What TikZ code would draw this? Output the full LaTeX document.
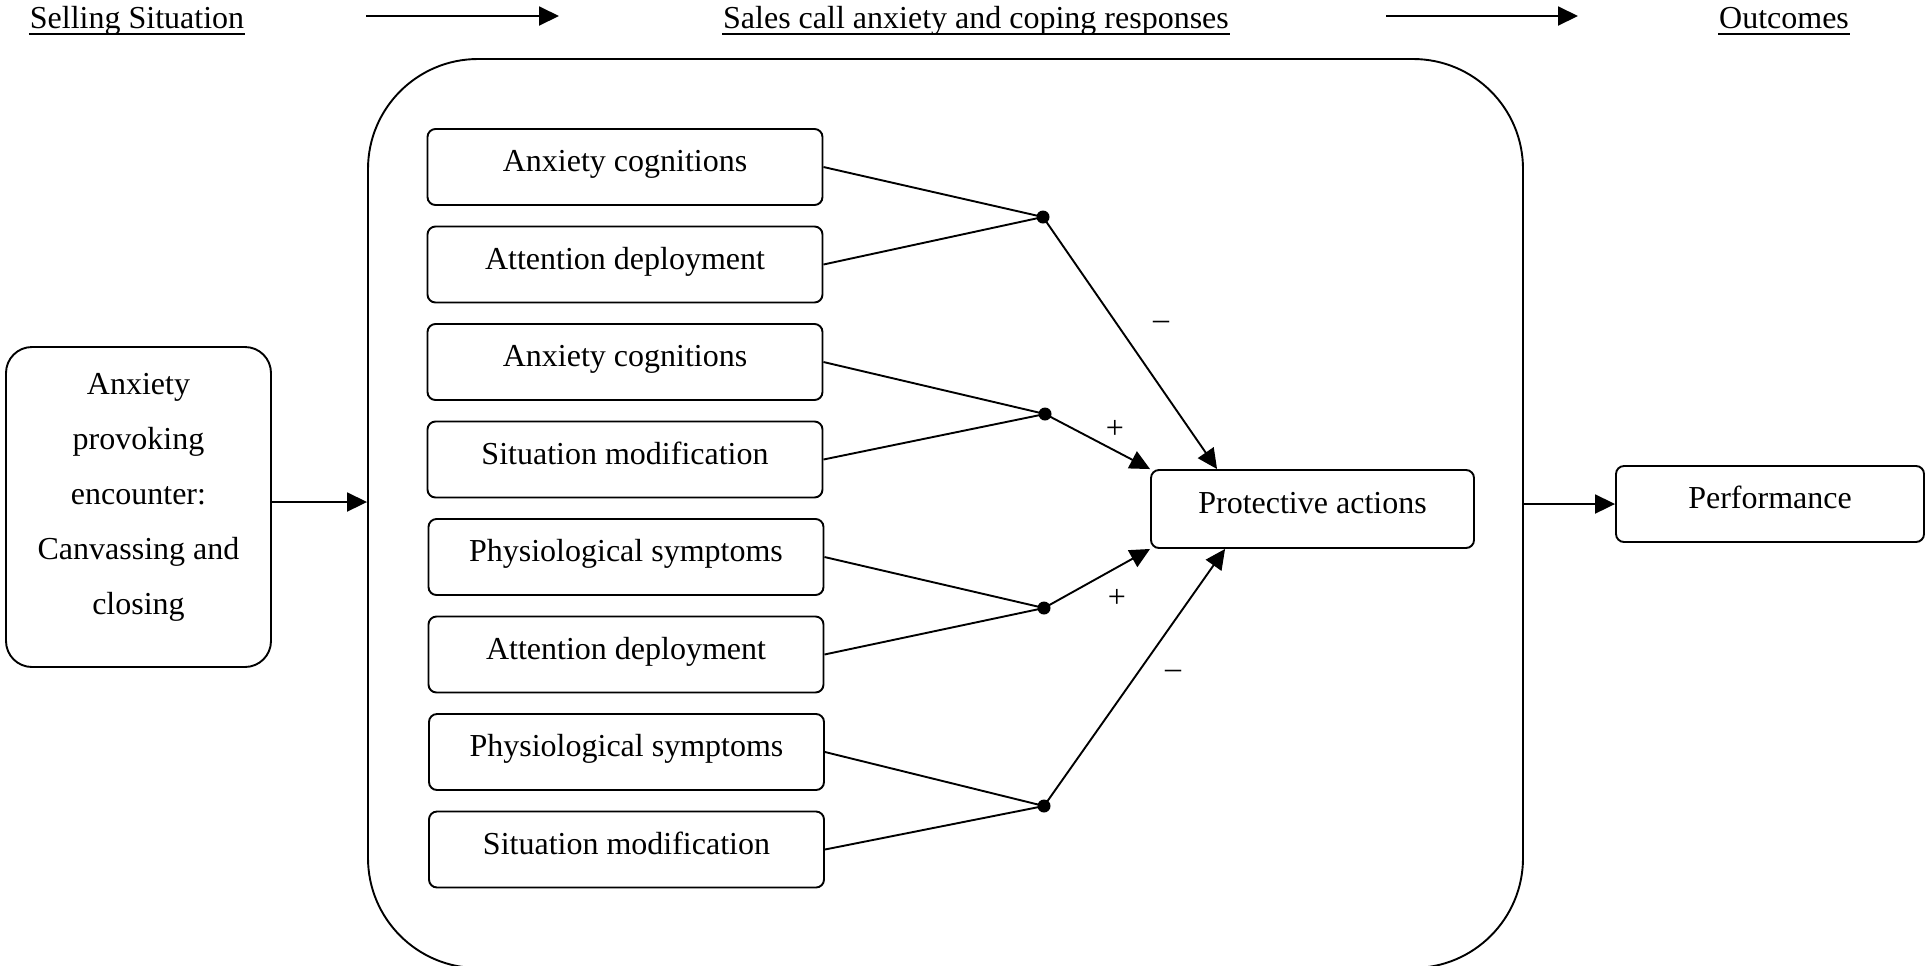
\documentclass[tikz,border=0pt]{standalone}
\usepackage{fontspec}
\setmainfont{Liberation Serif}
\usetikzlibrary{arrows.meta}
\begin{document}
\begin{tikzpicture}[x=0.5pt,y=-0.5pt, line width=0.95pt,
  font=\fontsize{16}{19}\selectfont,
  box/.style={draw, rounded corners=4pt, minimum width=197.5pt, minimum height=38pt, inner sep=0pt, text height=11pt, text depth=6.4pt},
  arr/.style={-{Triangle[length=10pt,width=9.5pt]}},
  jdot/.style={circle, fill, inner sep=0pt, minimum size=6.5pt},
  sign/.style={inner sep=0pt},
  head/.style={inner sep=0pt, anchor=base},
  uline/.style={line width=1pt}]
\useasboundingbox (0,0) rectangle (1926,965);

% headers
\node[head] (h1) at (137,28) {Selling Situation};
\node[head] (h2) at (976,28) {Sales call anxiety and coping responses};
\node[head] (h3) at (1784,28) {Outcomes};
\draw[uline] ([yshift=-3pt]h1.base west) -- ([yshift=-3pt]h1.base east);
\draw[uline] ([yshift=-3pt]h2.base west) -- ([yshift=-3pt]h2.base east);
\draw[uline] ([yshift=-3pt]h3.base west) -- ([yshift=-3pt]h3.base east);
\coordinate (a1s) at (366,16); \coordinate (a1e) at (559,16);
\coordinate (a2s) at (1386,16); \coordinate (a2e) at (1578,16);
\draw[arr] (a1s) -- (a1e);
\draw[arr] (a2s) -- (a2e);

% big container
\begin{scope}
\clip (0,0) rectangle (1926,965);
\node[draw, rounded corners=55pt, minimum width=577.5pt, minimum height=454.5pt, inner sep=0pt] (main) at (945.5,513.5) {};
\end{scope}

% left encounter box
\node[draw, rounded corners=13pt, minimum width=132.5pt, minimum height=160pt, inner sep=0pt] (enc) at (138.5,507) {};
\node[align=center, inner sep=0pt, font=\fontsize{16}{27.5}\selectfont] (enctext) at ([yshift=5pt]enc.center) {Anxiety\\provoking\\encounter:\\Canvassing and\\closing};

% inner boxes
\node[box] (b1) at (625,167) {Anxiety cognitions};
\node[box] (b2) at (625,264.5) {Attention deployment};
\node[box] (b3) at (625,362) {Anxiety cognitions};
\node[box] (b4) at (625,459.5) {Situation modification};
\node[box] (b5) at (626,557) {Physiological symptoms};
\node[box] (b6) at (626,654.5) {Attention deployment};
\node[box] (b7) at (626.5,752) {Physiological symptoms};
\node[box] (b8) at (626.5,849.5) {Situation modification};

% junction dots
\node[jdot] (d1) at (1043,217) {};
\node[jdot] (d2) at (1045,414) {};
\node[jdot] (d3) at (1044,608) {};
\node[jdot] (d4) at (1044,806) {};

% protective actions and performance
\node[box, minimum width=161.5pt, minimum height=39pt] (pa) at (1312.5,509) {Protective actions};
\node[box, minimum width=154pt, minimum height=38pt] (perf) at (1770,504) {Performance};

% connectors
\draw (b1.east) -- (d1.center);
\draw (b2.east) -- (d1.center);
\draw (b3.east) -- (d2.center);
\draw (b4.east) -- (d2.center);
\draw (b5.east) -- (d3.center);
\draw (b6.east) -- (d3.center);
\draw (b7.east) -- (d4.center);
\draw (b8.east) -- (d4.center);

\draw[arr] (d1.center) -- ([xshift=33.5pt]pa.north west);
\draw[arr] (d2.center) -- (pa.north west);
\draw[arr] (d3.center) -- (pa.south west);
\draw[arr] (d4.center) -- ([xshift=37.5pt]pa.south west);

\node[sign] (s1) at (1161,325) {--};
\node[sign] (s2) at (1115,429) {+};
\node[sign] (s3) at (1117,598) {+};
\node[sign] (s4) at (1173,674) {--};

\coordinate (encout) at ([yshift=2.5pt]enc.east);
\draw[arr] (encout) -- (encout -| main.west);
\draw[arr] (perf.west -| main.east) -- (perf.west);
\end{tikzpicture}
\end{document}
